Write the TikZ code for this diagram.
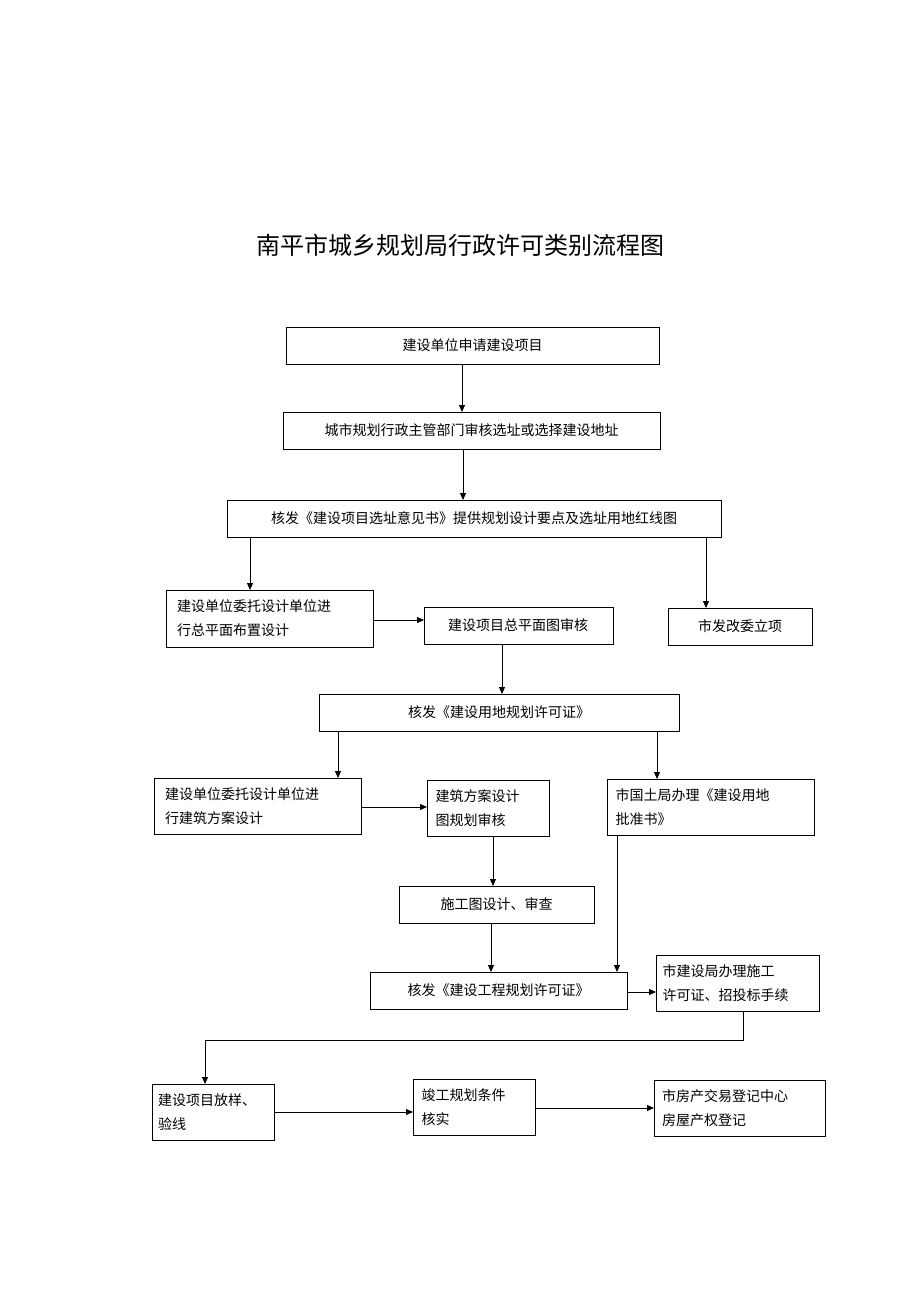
\documentclass[tikz,border=0pt]{standalone}
\usepackage{fontspec}
\setmainfont{Noto Sans CJK SC}
\usetikzlibrary{arrows.meta}
\begin{document}
\begin{tikzpicture}[x=1pt,y=-1pt,
  box/.style={draw,line width=0.9pt,inner sep=0pt,font=\fontsize{14}{24}\selectfont},
  ml/.style={align=left,text width=#1},
  arr/.style={line width=0.9pt,-{Triangle[length=7pt,width=6pt]}}]
\useasboundingbox (0,0) rectangle (920,1302);
\node[font=\fontsize{24}{28}\selectfont] (title) at (460,245) {南平市城乡规划局行政许可类别流程图};
\newcommand\bx[6]{\node[box,minimum width={#4-#2},minimum height={#5-#3},#6] (#1) at ({(#2+#4)/2},{(#3+#5)/2})}
\bx{n1}{286}{327}{659}{364}{}{建设单位申请建设项目};
\bx{n2}{283}{412}{660}{449}{}{城市规划行政主管部门审核选址或选择建设地址};
\bx{n3}{227}{500}{721}{537}{}{核发《建设项目选址意见书》提供规划设计要点及选址用地红线图};
\bx{n4}{166}{590}{373}{647}{ml=185pt}{建设单位委托设计单位进\\行总平面布置设计};
\node[box,minimum width=189pt,minimum height=37pt,anchor=north west,text height=0pt] (n5) at (424,607) {};
\node[font=\fontsize{14}{24}\selectfont] at (518,625) {建设项目总平面图审核};
\bx{n6}{668}{608}{812}{645}{}{市发改委立项};
\bx{n7}{319}{694}{679}{731}{}{核发《建设用地规划许可证》};
\bx{n8}{154}{778}{361}{834}{ml=185pt}{建设单位委托设计单位进\\行建筑方案设计};
\bx{n9}{427}{780}{549}{836}{ml=105pt}{建筑方案设计\\图规划审核};
\bx{n10}{607}{779}{814}{835}{ml=190pt}{市国土局办理《建设用地\\批准书》};
\bx{n11}{399}{886}{594}{923}{}{施工图设计、审查};
\bx{n12}{370}{972}{627}{1009}{}{核发《建设工程规划许可证》};
\bx{n13}{656}{955}{819}{1011}{ml=150pt}{市建设局办理施工\\许可证、招投标手续};
\bx{n14}{152}{1084}{274}{1140}{ml=110pt}{建设项目放样、\\验线};
\bx{n15}{413}{1079}{535}{1135}{ml=105pt}{竣工规划条件\\核实};
\bx{n16}{654}{1080}{825}{1136}{ml=155pt}{市房产交易登记中心\\房屋产权登记};
\draw[arr] (462,364) -- (462,412);
\draw[arr] (463,449) -- (463,500);
\draw[arr] (250,537) -- (250,590);
\draw[arr] (706,537) -- (706,608);
\draw[arr] (n4.east |- 0,620) -- (424,620);
\draw[arr] (502,644) -- (502,694);
\draw[arr] (338,731) -- (338,778);
\draw[arr] (657,731) -- (657,779);
\draw[arr] (361,807) -- (427,807);
\draw[arr] (493,836) -- (493,886);
\draw[arr] (491,923) -- (491,972);
\draw[arr] (617,835) -- (617,972);
\draw[arr] (627,992) -- (656,992);
\draw[arr] (743,1011) -- (743,1040) -- (205,1040) -- (205,1084);
\draw[arr] (274,1112) -- (413,1112);
\draw[arr] (535,1108) -- (654,1108);
\end{tikzpicture}
\end{document}
